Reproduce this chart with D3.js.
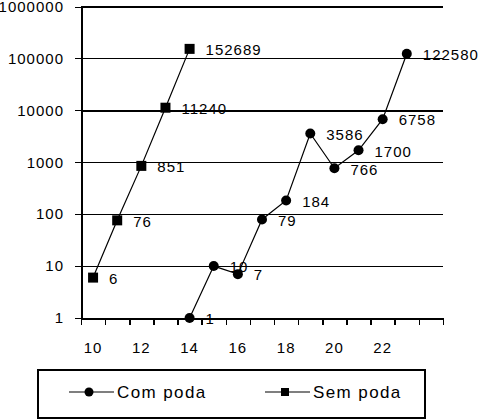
<!DOCTYPE html>
<html lang="pt">
<head>
  <meta charset="UTF-8">
  <title>Com poda / Sem poda</title>
  <style>
    body {
      margin: 0;
      background: #fff;
      font-family: Arial, "Liberation Sans", sans-serif;
    }
    svg text {
      fill: #000;
    }
    .axis path,
    .axis line {
      stroke: #000;
      shape-rendering: crispEdges;
    }
  </style>
  <script src="https://d3js.org/d3.v7.min.js"></script>
</head>
<body>
  <svg id="chart" width="478" height="420"></svg>

  <script>
    // Categories on the x axis (one per band)
    const categories = [10, 11, 12, 13, 14, 15, 16, 17, 18, 19, 20, 21, 22, 23, 24];
    const xTickLabels = [10, 12, 14, 16, 18, 20, 22];
    const yTickValues = [1, 10, 100, 1000, 10000, 100000, 1000000];

    // Series
    const comPodaX = [14, 15, 16, 17, 18, 19, 20, 21, 22, 23];
    const comPodaY = [1, 10, 7, 79, 184, 3586, 766, 1700, 6758, 122580];
    const semPodaX = [10, 11, 12, 13, 14];
    const semPodaY = [6, 76, 851, 11240, 152689];

    const plot = {left: 81, right: 443, top: 6.5, bottom: 318};

    const svg = d3.select("#chart");

    const x = d3.scaleBand()
      .domain(categories)
      .range([plot.left, plot.right])
      .paddingInner(0)
      .paddingOuter(0);
    const cx = d => x(d) + x.bandwidth() / 2;

    const y = d3.scaleLog()
      .domain([1, 1000000])
      .range([plot.bottom, plot.top]);

    // Horizontal gridlines
    svg.append("g")
      .attr("class", "axis")
      .attr("transform", `translate(${plot.left},0)`)
      .call(d3.axisLeft(y).tickValues(yTickValues).tickSize(-(plot.right - plot.left)).tickFormat(""))
      .call(g => g.select(".domain").remove())
      .call(g => g.selectAll(".tick line")
        .attr("stroke-width", d => (d === 10000 || d === 1000000) ? 2 : 1));

    // Y axis with labels
    svg.append("g")
      .attr("class", "axis")
      .attr("transform", `translate(${plot.left},0)`)
      .call(d3.axisLeft(y).tickValues(yTickValues).tickSize(6).tickSizeOuter(0)
        .tickPadding(11).tickFormat(d3.format("d")))
      .call(g => g.select(".domain").attr("stroke-width", 2))
      .call(g => g.selectAll("text")
        .attr("font-size", 15).attr("letter-spacing", 1).attr("font-family", null));

    // X axis: tick marks on the band edges
    const xEdge = d3.scaleLinear()
      .domain([0, categories.length])
      .range([plot.left, plot.right]);
    svg.append("g")
      .attr("class", "axis")
      .attr("transform", `translate(0,${plot.bottom})`)
      .call(d3.axisBottom(xEdge).tickValues(d3.range(categories.length + 1))
        .tickSize(7).tickSizeOuter(0).tickFormat(""))
      .call(g => g.select(".domain").attr("stroke-width", 2))
      .call(g => g.selectAll(".tick line").attr("stroke-width", 1.5));

    // X axis labels, centred in their bands
    svg.append("g")
      .attr("class", "axis")
      .attr("transform", `translate(0,${plot.bottom})`)
      .call(d3.axisBottom(x).tickValues(xTickLabels).tickSize(0).tickPadding(24))
      .call(g => g.select(".domain").remove())
      .call(g => g.selectAll("text")
        .attr("font-size", 15).attr("letter-spacing", 1).attr("font-family", null));

    const line = d3.line().x(d => cx(d[0])).y(d => y(d[1]));

    const comPoda = comPodaX.map((v, i) => [v, comPodaY[i]]);
    const semPoda = semPodaX.map((v, i) => [v, semPodaY[i]]);

    [comPoda, semPoda].forEach(s => {
      svg.append("path")
        .datum(s)
        .attr("fill", "none")
        .attr("stroke", "#000")
        .attr("stroke-width", 1.2)
        .attr("d", line);
    });

    svg.append("g").selectAll("circle")
      .data(comPoda)
      .join("circle")
      .attr("cx", d => cx(d[0]))
      .attr("cy", d => y(d[1]))
      .attr("r", 5)
      .attr("fill", "#000");

    svg.append("g").selectAll("rect")
      .data(semPoda)
      .join("rect")
      .attr("x", d => cx(d[0]) - 5)
      .attr("y", d => y(d[1]) - 5)
      .attr("width", 10)
      .attr("height", 10)
      .attr("fill", "#000");

    // Data labels
    svg.append("g").selectAll("text")
      .data(comPoda.concat(semPoda))
      .join("text")
      .attr("x", d => cx(d[0]) + 16)
      .attr("y", d => y(d[1]) + 1)
      .attr("dy", "0.35em")
      .attr("font-size", 15)
      .attr("letter-spacing", 1)
      .text(d => d[1]);

    // Legend
    const legend = svg.append("g");
    legend.append("rect")
      .attr("x", 38).attr("y", 370)
      .attr("width", 387).attr("height", 48)
      .attr("fill", "none").attr("stroke", "#000").attr("stroke-width", 2);

    const ly = 392;
    legend.append("line")
      .attr("x1", 69).attr("x2", 114).attr("y1", ly).attr("y2", ly)
      .attr("stroke", "#000").attr("stroke-width", 1.2);
    legend.append("circle")
      .attr("cx", 89).attr("cy", ly).attr("r", 4.5).attr("fill", "#000");
    legend.append("text")
      .attr("x", 117).attr("y", ly).attr("dy", "0.36em")
      .attr("font-size", 17).attr("letter-spacing", 1.4)
      .text("Com poda");

    legend.append("line")
      .attr("x1", 265).attr("x2", 310).attr("y1", ly).attr("y2", ly)
      .attr("stroke", "#000").attr("stroke-width", 1.2);
    legend.append("rect")
      .attr("x", 281).attr("y", ly - 4).attr("width", 8).attr("height", 8).attr("fill", "#000");
    legend.append("text")
      .attr("x", 313).attr("y", ly).attr("dy", "0.36em")
      .attr("font-size", 17).attr("letter-spacing", 1.4)
      .text("Sem poda");
  </script>
</body>
</html>
